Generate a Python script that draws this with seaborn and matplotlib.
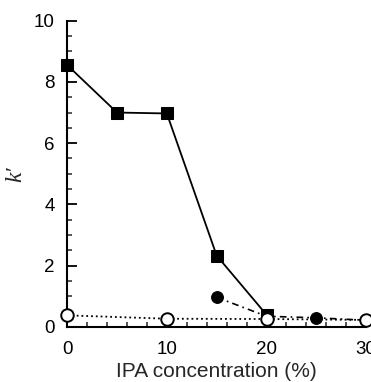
import matplotlib
matplotlib.use('Agg')
import matplotlib.pyplot as plt
import seaborn as sns
from matplotlib.ticker import MultipleLocator


# data
sq_x = [0, 5, 10, 15, 20]
sq_y = [8.55, 7.0, 6.97, 2.33, 0.4]

fc_x = [15, 20, 25, 30]
fc_y = [0.97, 0.35, 0.3, 0.22]

oc_x = [0, 10, 20, 30]
oc_y = [0.38, 0.27, 0.26, 0.23]

xticks = [0, 10, 20, 30]
yticks = [0, 2, 4, 6, 8, 10]


sns.set_style('ticks')
plt.rcParams['font.family'] = ['Liberation Sans', 'DejaVu Sans']

fig = plt.figure(figsize=(3.71, 3.82), dpi=100)
ax = fig.add_axes([0.181, 0.144, 0.806, 0.802])

sns.lineplot(x=sq_x, y=sq_y, ax=ax, color='black', linestyle='-', linewidth=1.3,
             marker='s', markersize=8.5, markerfacecolor='black', markeredgecolor='black',
             clip_on=False, zorder=3)
sns.lineplot(x=fc_x, y=fc_y, ax=ax, color='black', linestyle=(0, (4, 2.5, 1, 2.5)), linewidth=1.2,
             marker='o', markersize=8.5, markerfacecolor='black', markeredgecolor='black',
             clip_on=False, zorder=4)
sns.lineplot(x=oc_x, y=oc_y, ax=ax, color='black', linestyle=':', linewidth=1.3,
             marker='o', markersize=9, markerfacecolor='white', markeredgecolor='black',
             markeredgewidth=1.4, clip_on=False, zorder=5)

ax.set_xlim(0, 30)
ax.set_ylim(0, 10)
ax.set_xticks(xticks)
ax.set_yticks(yticks)
ax.xaxis.set_minor_locator(MultipleLocator(2))
ax.yaxis.set_minor_locator(MultipleLocator(0.5))
ax.tick_params(axis='both', which='major', direction='in', length=7, width=1.3,
               labelsize=13.5, colors='black')
ax.tick_params(axis='x', which='major', pad=10)
ax.tick_params(axis='y', which='major', pad=9)
ax.tick_params(axis='both', which='minor', direction='in', length=3.5, width=1.1)
sns.despine(ax=ax)
for s in ['left', 'bottom']:
    ax.spines[s].set_linewidth(1.5)
    ax.spines[s].set_color('black')

ax.set_xlabel('IPA concentration (%)', fontsize=15, labelpad=3)
ax.set_ylabel('k\u2032', fontsize=17, fontstyle='italic',
              family=['Liberation Serif', 'DejaVu Serif'])
ax.yaxis.set_label_coords(-0.135, 0.5)

plt.savefig('out.png', dpi=100)
